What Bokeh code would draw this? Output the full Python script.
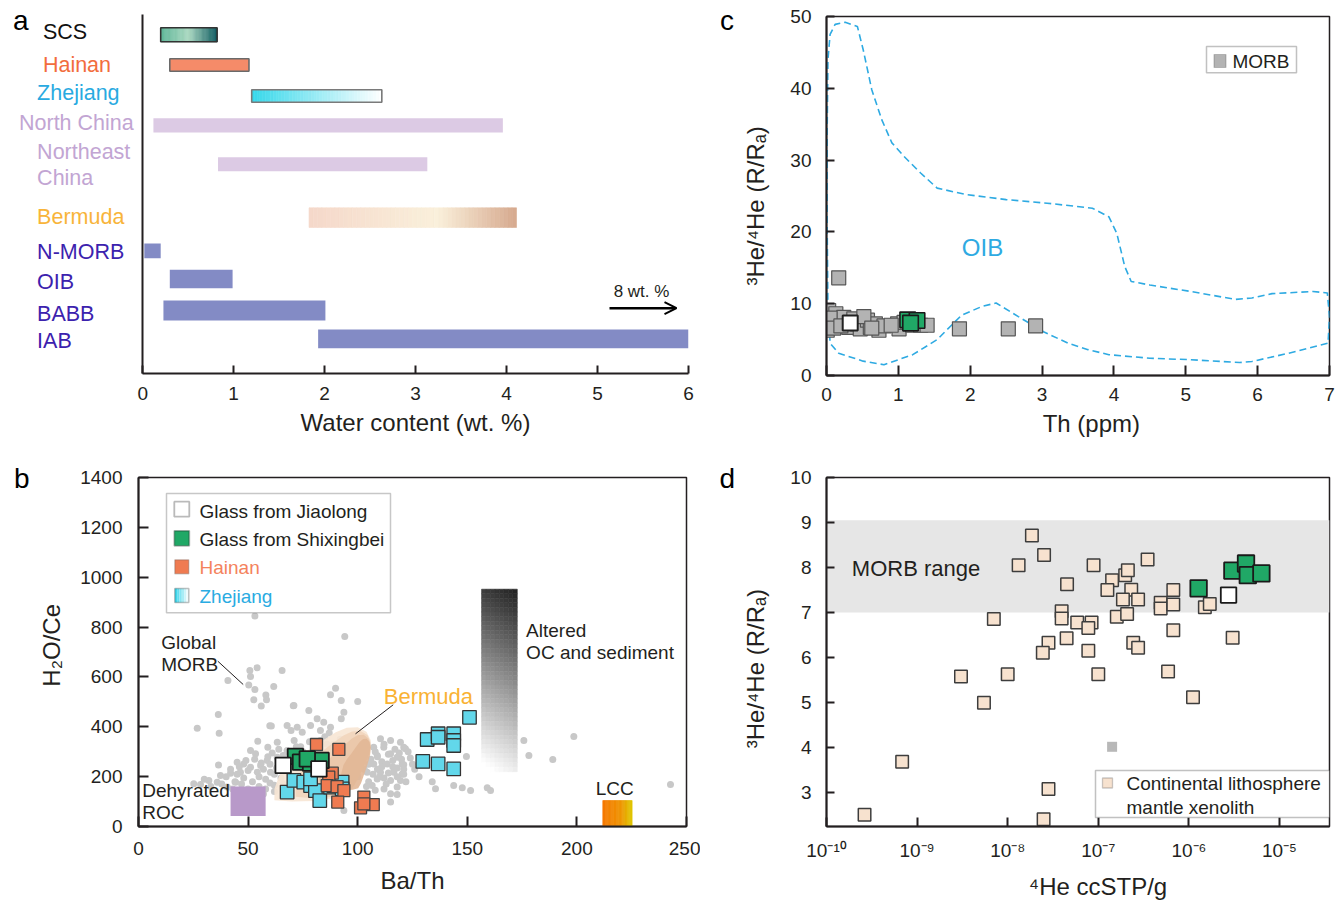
import numpy as np
from bokeh.plotting import figure
from bokeh.models import (Range1d, Label, Arrow, OpenHead, BoxAnnotation, FixedTicker,
                          CustomJSTickFormatter)
from bokeh.layouts import row, column
from bokeh.embed import file_html
from bokeh.resources import INLINE

FONT = "Liberation Sans"
INK = "#231f20"
NBSP = "\u00a0"

# ---------------- Panel a : water content ranges ----------------
a_categories = ["SCS", "Hainan", "Zhejiang", "North China", "Northeast China",
                "Bermuda", "N-MORB", "OIB", "BABB", "IAB"]
a_water_min = [0.20, 0.30, 1.20, 0.12, 0.83, 1.83, 0.02, 0.30, 0.23, 1.93]
a_water_max = [0.82, 1.17, 2.63, 3.96, 3.13, 4.11, 0.20, 0.99, 2.01, 6.00]
a_xticks = [0, 1, 2, 3, 4, 5, 6]

# ---------------- Panel b : H2O/Ce vs Ba/Th ----------------
b_morb_ba_th = [53.1, 54.1, 50.8, 51.1, 40.8, 65.5, 50.3, 53.1, 61.7, 58.1, 52.6, 58.4, 56.0, 70.6,
                36.4, 26.8, 36.8, 59.9, 67.8, 69.6, 54.4, 63.3, 59.0, 51.1, 53.4, 45.0, 36.5, 48.0,
                46.5, 42.0, 37.4, 51.1, 55.7, 58.7, 54.2, 60.2, 35.9, 32.1, 28.3, 25.2, 44.3, 63.3,
                67.8, 64.8, 40.5, 94.1, 89.9, 87.6, 92.5, 100.0, 70.9, 77.7, 93.7, 92.5, 81.5, 84.5,
                87.6, 78.5, 72.4, 74.7, 83.0, 110.4, 115.0, 119.5, 121.8, 111.9, 107.3, 108.9, 115.0,
                118.0, 121.0, 113.5, 107.3, 104.3, 110.4, 116.5, 108.9, 115.0, 118.0, 115.0, 118.0,
                106.6, 99.8, 115.0, 98.2, 93.7, 198.6, 175.8, 178.1, 189.0, 159.3, 242.7, 149.6,
                134.0, 135.5, 143.8, 147.7, 151.5, 159.1, 160.6, 121.0, 120.3, 120.3, 119.5, 60.6,
                45, 48, 50, 52, 55, 57, 58, 60, 60, 62, 63, 65, 65, 67, 68, 70, 70, 72, 73, 75, 76,
                78, 80, 80, 82, 84, 85, 86, 88, 89, 90, 92, 94, 95, 97, 98, 100, 100, 102, 103, 104,
                105, 106, 108, 109, 110, 111, 112, 113, 114, 116, 117, 118, 120, 121, 122, 123, 125,
                96, 88, 84, 92, 55, 58, 50, 62, 66, 44, 40, 68,
                42, 46, 49, 53, 56, 59, 61, 64, 66, 69, 71, 74, 77, 79, 81, 83, 86, 87, 90, 91, 93,
                96, 99, 101, 103, 105, 107, 109, 111, 112, 114, 116, 118, 119, 121, 124, 126, 128,
                104, 108, 112, 97, 94, 47, 52, 57, 62, 71, 43, 38, 33, 30]
b_morb_h2o_ce = [844, 637, 626, 602, 586, 626, 568, 550, 562, 528, 508, 508, 483, 484,
                 449, 394, 374, 404, 405, 385, 342, 338, 318, 305, 292, 258, 247, 251,
                 218, 214, 205, 238, 245, 265, 218, 218, 178, 185, 168, 171, 178, 278,
                 305, 245, 158, 762, 555, 529, 505, 501, 485, 465, 458, 432, 432, 418,
                 398, 405, 398, 378, 385, 352, 345, 338, 312, 318, 318, 285, 292,
                 278, 248, 251, 251, 218, 218, 218, 191, 185, 158, 131, 128,
                 164, 205, 98, 251, 64, 361, 345, 285, 269, 289, 168, 281,
                 180, 151, 164, 155, 144, 155, 144, 318, 251, 211, 185, 403,
                 210, 195, 225, 180, 200, 230, 190, 250, 175, 210, 235, 195, 270, 220, 300, 240, 205,
                 320, 230, 300, 210, 340, 290, 235, 310, 280, 360, 250, 300, 330, 270, 350, 300, 240,
                 280, 320, 260, 200, 300, 230, 340, 180, 270, 300, 230, 200, 260, 330, 170, 290, 240,
                 310, 200, 270, 230, 180, 300, 250, 210, 210, 190, 180, 160, 150, 150, 140, 170, 180,
                 200, 150,
                 230, 240, 265, 270, 255, 280, 295, 310, 285, 265, 345, 320, 275, 255, 320, 345, 330,
                 375, 310, 290, 325, 260, 345, 285, 320, 250, 210, 280, 240, 195, 215, 265, 235, 295,
                 210, 275, 230, 200, 160, 145, 150, 175, 200, 170, 140, 130, 165, 180, 150, 170, 160,
                 190]
b_bermuda_x = [62, 62, 64, 67, 72, 78, 84, 90, 95, 100, 104, 106, 105, 102, 98, 95, 92, 88, 80, 70]
b_bermuda_y = [105, 150, 200, 245, 280, 310, 345, 378, 396, 398, 380, 345, 305, 260, 210, 175,
               140, 112, 102, 100]
b_zhejiang_ba_th = [67.8, 70.9, 75.4, 78.5, 80.7, 82.7, 87.6, 89.1, 92.9, 92.9, 78.5,
                    131.7, 136.7, 136.7, 143.8, 143.8, 143.8, 151.0, 129.7, 136.7, 143.8]
b_zhejiang_h2o_ce = [138, 185, 178, 164, 144, 104, 158, 164, 178, 151, 191,
                     349, 372, 358, 372, 345, 325, 438, 261, 251, 231]
b_hainan_ba_th = [81.2, 91.4, 88.4, 86.8, 86.1, 90.6, 93.7, 90.9, 102.8, 107.1, 101.3, 102.8]
b_hainan_h2o_ce = [329, 309, 214, 198, 164, 160, 144, 98, 118, 88, 75, 91]
b_shixingbei_ba_th = [71.6, 73.9, 78.5, 83.3, 77.0]
b_shixingbei_h2o_ce = [281, 258, 254, 265, 271]
b_jiaolong_ba_th = [66.0, 82.3]
b_jiaolong_h2o_ce = [245, 231]
b_roc_box = dict(x0=42, x1=58, y0=42, y1=160)
b_lcc_box = dict(x0=211.8, x1=225.2, y0=0, y1=104)
b_altered_box = dict(x0=156.5, x1=172.8, y0=220, y1=952)
b_xticks = [0, 50, 100, 150, 200, 250]
b_yticks = [0, 200, 400, 600, 800, 1000, 1200, 1400]

# ---------------- Panel c : 3He/4He vs Th ----------------
c_morb_th = [0.03, 0.06, 0.01, 0.13, 0.17, 0.24, 0.31, 0.38, 0.43, 0.47, 0.57, 0.61, 0.68, 0.73,
             0.99, 1.01, 1.08, 1.20, 1.31, 1.40, 0.17, 1.85, 2.53, 2.91, 0.05, 0.10, 0.20, 0.80,
             0.90, 0.52, 0.63]
c_morb_he = [9.05, 7.4, 6.3, 8.6, 7.2, 8.1, 6.7, 7.9, 7.2, 6.5, 7.7, 6.7, 7.2, 6.3,
             7.2, 6.5, 7.4, 7.0, 7.0, 7.0, 13.6, 6.5, 6.5, 6.9, 8.0, 6.6, 6.9, 6.9,
             7.0, 8.2, 6.6]
c_jiaolong_th = [0.33]
c_jiaolong_he = [7.3]
c_shixingbei_th = [1.13, 1.26, 1.17]
c_shixingbei_he = [7.75, 7.66, 7.30]
c_oib_th = [0.02, 0.01, 0.01, 0.02, 0.05, 0.12, 0.26, 0.43, 0.51, 0.63, 0.77, 0.91, 1.08, 1.31,
            1.54, 1.94, 2.50, 3.07, 3.70, 3.93, 4.04, 4.15, 4.24, 4.50, 5.07, 5.69, 5.92, 6.20,
            6.77, 6.97, 7.00, 6.98, 6.43, 5.92, 5.75, 5.07, 4.50, 3.93, 3.64, 3.36, 3.02, 2.67,
            2.36, 2.16, 1.88, 1.54, 1.20, 0.80, 0.51, 0.17, 0.05, 0.03, 0.02]
c_oib_he = [9.0, 20.0, 35.0, 44.0, 47.5, 48.9, 49.2, 48.6, 45.4, 39.8, 35.6, 32.4, 30.5, 28.2,
            26.1, 25.2, 24.5, 24.0, 23.3, 22.1, 19.8, 15.2, 13.1, 12.6, 11.7, 10.6, 10.8, 11.4,
            11.7, 11.5, 8.2, 4.5, 3.1, 1.95, 1.8, 2.2, 2.4, 2.9, 3.6, 4.5, 6.1, 8.2,
            10.1, 9.6, 8.4, 5.0, 2.9, 1.5, 2.0, 3.1, 4.5, 8.2, 9.0]
c_xticks = [0, 1, 2, 3, 4, 5, 6, 7]
c_yticks = [0, 10, 20, 30, 40, 50]

# ---------------- Panel d : 3He/4He vs 4He ----------------
d_xenolith_he4 = [1.85e-8, 2.52e-8, 1.32e-8, 8.87e-8, 3.50e-7, 4.52e-8, 1.42e-7, 1.98e-7, 2.12e-7,
                  1.26e-7, 2.31e-7, 1.87e-7, 2.75e-7, 6.73e-7, 4.88e-7, 4.88e-7, 6.73e-7, 1.50e-6,
                  1.70e-6, 3.94e-8, 3.94e-8, 7.03e-9, 5.85e-8, 8.43e-8, 7.76e-8, 1.60e-7, 2.08e-7,
                  6.73e-7, 4.47e-8, 2.82e-8, 2.44e-8, 7.76e-8, 2.43e-7, 2.75e-7, 3.04e-6, 3.05e-9,
                  1.00e-8, 1.00e-7, 5.89e-7, 5.47e-9, 1.11e-6, 6.84e-10, 2.82e-8, 2.63e-10, 2.49e-8]
d_xenolith_ratio = [8.71, 8.28, 8.05, 8.05, 8.18, 7.63, 7.72, 7.83, 7.94,
                    7.50, 7.51, 7.29, 7.29, 7.50, 7.22, 7.09, 7.18, 7.12,
                    7.19, 7.03, 6.87, 6.86, 6.78, 6.78, 6.66, 6.91, 6.97,
                    6.61, 6.43, 6.33, 6.11, 6.15, 6.33, 6.22, 6.44, 5.58,
                    5.63, 5.63, 5.69, 5.00, 5.12, 3.69, 3.08, 2.51, 2.41]
d_gray_he4 = [1.42e-7]
d_gray_ratio = [4.02]
d_shixingbei_he4 = [1.28e-6, 3.02e-6, 4.27e-6, 4.47e-6, 6.31e-6]
d_shixingbei_ratio = [7.54, 7.93, 8.09, 7.83, 7.87]
d_jiaolong_he4 = [2.74e-6]
d_jiaolong_ratio = [7.39]
d_morb_range = [7.0, 9.05]
d_xticks = [1e-10, 1e-9, 1e-8, 1e-7, 1e-6, 1e-5]
d_yticks = [3, 4, 5, 6, 7, 8, 9, 10]

HE_TITLE = "\u00b3He/\u2074He (R/R\u2090)"


# ---------------- helpers ----------------
def _rgb(h):
    h = h.lstrip('#')
    return tuple(int(h[i:i + 2], 16) for i in (0, 2, 4))


def grad(stops, t):
    for (t0, c0), (t1, c1) in zip(stops[:-1], stops[1:]):
        if t <= t1:
            u = (t - t0) / (t1 - t0) if t1 > t0 else 0.0
            a, b = _rgb(c0), _rgb(c1)
            return "#%02x%02x%02x" % tuple(int(round(a[k] + (b[k] - a[k]) * u)) for k in range(3))
    return stops[-1][1]


def make_fig(w, h, left, right, top, bottom, xr, yr, x_axis_type="linear"):
    p = figure(width=w, height=h, x_range=xr, y_range=yr, x_axis_type=x_axis_type,
               output_backend="svg", toolbar_location=None, title=None, frame_align=False,
               min_border_left=left, min_border_right=right,
               min_border_top=top, min_border_bottom=bottom)
    p.xgrid.visible = False
    p.ygrid.visible = False
    p.background_fill_color = "white"
    p.border_fill_color = "white"
    p.outline_line_color = INK
    p.outline_line_width = 1.5
    for ax in (p.xaxis[0], p.yaxis[0]):
        ax.axis_line_color = INK
        ax.axis_line_width = 2
        ax.major_tick_line_color = INK
        ax.major_tick_line_width = 2
        ax.major_tick_in = 9
        ax.major_tick_out = 0
        ax.minor_tick_line_color = None
        ax.major_label_text_font = FONT
        ax.major_label_text_font_size = "19px"
        ax.major_label_text_color = INK
        ax.axis_label_text_font = FONT
        ax.axis_label_text_font_size = "24px"
        ax.axis_label_text_font_style = "normal"
        ax.axis_label_text_color = INK
    return p


def helper(w, h, xr, yr):
    p = figure(width=w, height=h, x_range=xr, y_range=yr, output_backend="svg",
               toolbar_location=None, title=None, x_axis_location=None, y_axis_location=None,
               frame_align=False,
               min_border_left=0, min_border_right=0, min_border_top=0, min_border_bottom=0)
    p.grid.visible = False
    p.outline_line_color = None
    p.background_fill_color = "white"
    p.border_fill_color = "white"
    return p


def label(p, x, y, s, size, color=INK, align="left", baseline="middle", angle=0.0):
    p.add_layout(Label(x=x, y=y, text=s, text_font=FONT, text_font_size=f"{size}px",
                       text_color=color, text_align=align, text_baseline=baseline, angle=angle))


# ================= Panel a =================
la = helper(137, 450, Range1d(0, 137), Range1d(450, 0))
pa = make_fig(563, 450, 5, 12, 14, 77, Range1d(0, 6), Range1d(373, 14))
pa.outline_line_color = None
pa.xaxis.ticker = FixedTicker(ticks=a_xticks)
pa.xaxis.major_label_standoff = 13
pa.xaxis.major_tick_in = 8
pa.xaxis.axis_label = "Water content (wt. %)"
pa.xaxis.axis_label_standoff = 6
pa.yaxis.ticker = FixedTicker(ticks=[])
pa.yaxis.major_tick_line_color = None
pa.yaxis.major_label_text_font_size = "0px"


def ax_(px):
    return (px - 142.0) / 546.0 * 6.0


a_row_top = [27.3, 58.3, 89.3, 117.7, 156.7, 207.3, 243.0, 269.3, 300.0, 329.0]
a_row_bot = [41.3, 70.7, 101.7, 132.0, 170.7, 227.0, 257.7, 287.7, 320.0, 347.7]
BLUE = "#838bc5"
LILAC = "#dccae4"
INDIGO = "#3c22ae"
a_style = {
    "SCS": dict(fill="#8ccab0", grad=[(0, "#5db597"), (0.5, "#aad8c1"), (1, "#0d5a5f")],
                line="#333333", color="#111111", lines=[("SCS", 42.4, 31.7)]),
    "Hainan": dict(fill="#f58b69", grad=None, line="#6a6a6a", color="#f26d3d",
                   lines=[("Hainan", 42.4, 64.0)]),
    "Zhejiang": dict(fill="#9ee9f3", grad=[(0, "#36d8eb"), (1, "#ffffff")], line="#7a7a7a",
                     color="#29aae1", lines=[("Zhejiang", 36.6, 92.5)]),
    "North China": dict(fill=LILAC, grad=None, line=None, color="#c2a5d3",
                        lines=[("North China", 18.5, 122.7)]),
    "Northeast China": dict(fill=LILAC, grad=None, line=None, color="#c2a5d3",
                            lines=[("Northeast", 36.6, 151.7), ("China", 36.6, 177.3)]),
    "Bermuda": dict(fill="#f3dccb", grad=[(0, "#f5d8ca"), (0.62, "#faf0db"), (1, "#d6a98e")],
                    line=None, color="#f8b43a", lines=[("Bermuda", 36.6, 216.0)]),
    "N-MORB": dict(fill=BLUE, grad=None, line=None, color=INDIGO, lines=[("N-MORB", 36.6, 251.7)]),
    "OIB": dict(fill=BLUE, grad=None, line=None, color=INDIGO, lines=[("OIB", 36.6, 281.7)]),
    "BABB": dict(fill=BLUE, grad=None, line=None, color=INDIGO, lines=[("BABB", 36.6, 313.3)]),
    "IAB": dict(fill=BLUE, grad=None, line=None, color=INDIGO, lines=[("IAB", 36.6, 340.0)]),
}

for i, cat in enumerate(a_categories):
    st = a_style[cat]
    lo, hi = a_water_min[i], a_water_max[i]
    top, bot = a_row_top[i], a_row_bot[i]
    if st["grad"] is None:
        pa.quad(left=[lo], right=[hi], top=[top], bottom=[bot], fill_color=st["fill"],
                line_color=None)
    else:
        n = 48
        edges = np.linspace(lo, hi, n + 1)
        cols = [grad(st["grad"], (k + 0.5) / n) for k in range(n)]
        pa.quad(left=edges[:-1], right=edges[1:], top=top, bottom=bot, fill_color=cols,
                line_color=cols, line_width=0.6)
    if st["line"] is not None:
        pa.quad(left=[lo], right=[hi], top=[top], bottom=[bot], fill_color=None,
                line_color=st["line"], line_width=1.6)
    for s, lx, ly in st["lines"]:
        label(la, lx, ly, s, 21.5, color=st["color"])

label(la, 12.5, 19.5, "a", 28, color="#000000")
pa.add_layout(Arrow(end=OpenHead(size=12, line_width=2, line_color="#000000"),
                    x_start=ax_(609), y_start=307.7, x_end=ax_(676), y_end=307.7,
                    line_width=2.5, line_color="#000000"))
label(pa, ax_(641), 290.5, "8 wt. %", 17, align="center")

# ================= Panel c =================
lc = helper(38, 450, Range1d(700, 738), Range1d(450, 0))
pc = make_fig(600, 450, 88, 9, 16, 75, Range1d(0, 7), Range1d(0, 50))
pc.xaxis.ticker = FixedTicker(ticks=c_xticks)
pc.yaxis.ticker = FixedTicker(ticks=c_yticks)
pc.xaxis.major_label_standoff = 12
pc.yaxis.major_label_standoff = 15
pc.xaxis.major_tick_in = 10
pc.yaxis.major_tick_in = 8
pc.xaxis.axis_label = NBSP * 4 + "Th (ppm)"
pc.xaxis.axis_label_standoff = 6
pc.yaxis.axis_label = HE_TITLE + NBSP * 3
pc.yaxis.axis_label_standoff = 18


def cx_(px):
    return (px - 826.0) / 503.0 * 7.0


def cy_(py):
    return (375.0 - py) / 359.0 * 50.0


pc.line(c_oib_th, c_oib_he, line_color="#2eaae2", line_width=1.6, line_dash="7 4")
pc.scatter(c_morb_th, c_morb_he, marker="square", size=14, fill_color="#b3b3b3",
           line_color="#555555", line_width=1.2)
pc.scatter(c_jiaolong_th, c_jiaolong_he, marker="square", size=15, fill_color="white",
           line_color="#222222", line_width=2)
pc.scatter(c_shixingbei_th, c_shixingbei_he, marker="square", size=15.5, fill_color="#20a866",
           line_color="#1a1a1a", line_width=1.6)
label(pc, cx_(982), cy_(246.5), "OIB", 24, color="#2eaae2", align="center")
pc.add_layout(BoxAnnotation(left=cx_(1206), right=cx_(1296), top=cy_(46), bottom=cy_(72.3),
                            fill_color="white", fill_alpha=1, line_color="#333333",
                            line_width=1.5))
pc.add_layout(BoxAnnotation(left=cx_(1213.5), right=cx_(1225.5), top=cy_(54), bottom=cy_(67),
                            fill_color="#b3b3b3", fill_alpha=1, line_color="#555555",
                            line_width=1.2))
label(pc, cx_(1232), cy_(60.5), "MORB", 19)
label(lc, 719.5, 20, "c", 28, color="#000000")

# ================= Panel b =================
lb = helper(35, 453, Range1d(0, 35), Range1d(903, 450))
pb = make_fig(665, 453, 103, 14, 27, 77, Range1d(0, 250), Range1d(0, 1400))
pb.xaxis.ticker = FixedTicker(ticks=b_xticks)
pb.yaxis.ticker = FixedTicker(ticks=b_yticks)
pb.xaxis.major_label_standoff = 15
pb.yaxis.major_label_standoff = 16
pb.xaxis.major_tick_in = 10
pb.yaxis.major_tick_in = 10
pb.xaxis.axis_label = "Ba/Th"
pb.xaxis.axis_label_standoff = 9
pb.yaxis.axis_label = NBSP * 2 + "H\u2082O/Ce"
pb.yaxis.axis_label_standoff = 12


def bx_(px):
    return (px - 138.0) / 548.0 * 250.0


def by_(py):
    return (826.0 - py) / 349.0 * 1400.0


pb.scatter(b_morb_ba_th, b_morb_h2o_ce, marker="circle", size=7, fill_color="#c8c8c8",
           line_color=None)
# Bermuda field, shaded from cream (left) to tan (right)
bx_arr = np.array(b_bermuda_x, dtype=float)
by_arr = np.array(b_bermuda_y, dtype=float)
xr_, yc_ = bx_arr.max(), 0.5 * (by_arr.max() + by_arr.min())
for s, col in [(1.0, "#f7e5d4"), (0.78, "#f1d5bd"), (0.55, "#eac6a8"), (0.32, "#e2b796")]:
    pb.patch(xr_ - (xr_ - bx_arr) * s, yc_ + (by_arr - yc_) * (0.55 + 0.45 * s),
             fill_color=col, fill_alpha=0.9, line_color=None)

# altered oceanic crust / sediment gradient bar
nr, nc = 40, 8
ab = b_altered_box
ys = np.linspace(ab["y1"], ab["y0"], nr + 1)
xs = np.linspace(ab["x0"], ab["x1"], nc + 1)
L, R_, T, B, C = [], [], [], [], []
for r in range(nr):
    for c in range(nc):
        ty = (r + 0.5) / nr
        tx = (c + 0.5) / nc
        g = min(1.0, 0.13 + 0.80 * ty + 0.11 * (1 - tx))
        v = int(round(255 * g))
        col = "#%02x%02x%02x" % (v, v, v)
        L.append(xs[c]); R_.append(xs[c + 1]); T.append(ys[r]); B.append(ys[r + 1]); C.append(col)
pb.quad(left=L, right=R_, top=T, bottom=B, fill_color=C, line_color=C, line_width=0.6)

# LCC gradient box
n = 24
lbx = b_lcc_box
edges = np.linspace(lbx["x0"], lbx["x1"], n + 1)
cols = [grad([(0, "#f67800"), (0.6, "#ef9200"), (1, "#dfc800")], (k + 0.5) / n) for k in range(n)]
pb.quad(left=edges[:-1], right=edges[1:], top=lbx["y1"], bottom=lbx["y0"], fill_color=cols,
        line_color=cols, line_width=0.6)
rb = b_roc_box
pb.quad(left=[rb["x0"]], right=[rb["x1"]], top=[rb["y1"]], bottom=[rb["y0"]],
        fill_color="#b899c9", line_color=None)

pb.scatter(b_zhejiang_ba_th, b_zhejiang_h2o_ce, marker="square", size=13.5, fill_color="#62d7ea",
           line_color="#333333", line_width=1.3)
pb.scatter(b_hainan_ba_th, b_hainan_h2o_ce, marker="square", size=12, fill_color="#ef7b51",
           line_color="#444444", line_width=1.3)
pb.scatter(b_shixingbei_ba_th, b_shixingbei_h2o_ce, marker="square", size=15.5,
           fill_color="#20a866", line_color="#1a1a1a", line_width=1.8)
pb.scatter(b_jiaolong_ba_th, b_jiaolong_h2o_ce, marker="square", size=15.5, fill_color="white",
           line_color="#1a1a1a", line_width=1.8)

# annotations panel b
label(pb, bx_(160.7), by_(641.7), "Global", 19)
label(pb, bx_(160.7), by_(664), "MORB", 19)
pb.add_layout(Arrow(end=None, x_start=bx_(217.3), y_start=by_(660.7), x_end=bx_(242.7),
                    y_end=by_(684), line_color=INK, line_width=1))
label(pb, bx_(383.3), by_(696), "Bermuda", 22, color="#f9b233")
pb.add_layout(Arrow(end=None, x_start=bx_(392.7), y_start=by_(704.3), x_end=bx_(355),
                    y_end=by_(733.3), line_color=INK, line_width=1))
label(pb, bx_(525.6), by_(630), "Altered", 19)
label(pb, bx_(525.6), by_(652.3), "OC and sediment", 19)
label(pb, bx_(141.7), by_(790), "Dehyrated", 19)
label(pb, bx_(141.7), by_(811.7), "ROC", 19)
label(pb, bx_(614.3), by_(788.3), "LCC", 19, align="center")

# legend panel b
pb.add_layout(BoxAnnotation(left=bx_(166), right=bx_(390), top=by_(493), bottom=by_(612.3),
                            fill_color="white", fill_alpha=1, line_color="#444444",
                            line_width=1.5))


def leg_square(p, fx, fy, cxp, cyp, half, fill, line, lw=1.5):
    p.add_layout(BoxAnnotation(left=fx(cxp - half), right=fx(cxp + half), top=fy(cyp - half),
                               bottom=fy(cyp + half), fill_color=fill, fill_alpha=1,
                               line_color=line, line_width=lw))


leg_square(pb, bx_, by_, 181.3, 508.7, 7.5, "white", "#1a1a1a", 1.8)
leg_square(pb, bx_, by_, 181.3, 537.8, 7.5, "#20a866", "#1a1a1a", 1.8)
leg_square(pb, bx_, by_, 181.3, 566.3, 7.0, "#ef7b51", "#555555", 1.3)
nz = 6
for k in range(nz):
    xa = 174.3 + 14.0 * k / nz
    xb = 174.3 + 14.0 * (k + 1) / nz
    colz = grad([(0, "#2fd3ea"), (1, "#ffffff")], (k + 0.5) / nz)
    pb.add_layout(BoxAnnotation(left=bx_(xa), right=bx_(xb), top=by_(588), bottom=by_(602),
                                fill_color=colz, fill_alpha=1, line_color=None))
pb.add_layout(BoxAnnotation(left=bx_(174.3), right=bx_(188.3), top=by_(588), bottom=by_(602),
                            fill_color=None, line_color="#333333", line_width=1.5))
label(pb, bx_(199), by_(510.5), "Glass from Jiaolong", 19)
label(pb, bx_(199), by_(538.5), "Glass from Shixingbei", 19)
label(pb, bx_(199), by_(566.5), "Hainan", 19, color="#f4825c")
label(pb, bx_(199), by_(595.5), "Zhejiang", 19, color="#29abe2")
label(lb, 13.5, 478, "b", 28, color="#000000")

# ================= Panel d =================
D_DECADE = 90.6
ld = helper(38, 453, Range1d(700, 738), Range1d(903, 450))
pd_ = make_fig(600, 453, 88, 9, 27, 77, Range1d(1e-10, 10 ** (-10 + 503 / D_DECADE)),
               Range1d(2.25, 10), x_axis_type="log")
pd_.xaxis.ticker = FixedTicker(ticks=d_xticks)
pd_.yaxis.ticker = FixedTicker(ticks=d_yticks)
pd_.xaxis.major_label_standoff = 13
pd_.yaxis.major_label_standoff = 15
pd_.xaxis.major_tick_in = 9
pd_.yaxis.major_tick_in = 8
pd_.xaxis.axis_label = NBSP * 6 + "\u2074He ccSTP/g"
pd_.xaxis.axis_label_standoff = 9
pd_.yaxis.axis_label = HE_TITLE + NBSP * 5
pd_.yaxis.axis_label_standoff = 18
pd_.xaxis.formatter = CustomJSTickFormatter(code="""
const e = Math.round(Math.log10(tick));
const m = {"-": "\u207b", "0": "\u2070", "1": "\u00b9", "2": "\u00b2", "3": "\u00b3",
           "4": "\u2074", "5": "\u2075", "6": "\u2076", "7": "\u2077", "8": "\u2078", "9": "\u2079"};
return "10" + String(e).split("").map(c => m[c]).join("");
""")


def dx_(px):
    return 10 ** (-10 + (px - 826.0) / D_DECADE)


def dy_(py):
    return 10 - (py - 477.0) / 349.0 * 7.75


pd_.add_layout(BoxAnnotation(bottom=d_morb_range[0], top=d_morb_range[1], fill_color="#e6e6e6",
                             fill_alpha=1, line_color=None, level="underlay"))
pd_.scatter(d_xenolith_he4, d_xenolith_ratio, marker="square", size=12.5, fill_color="#f7e2cf",
            line_color="#3d3d3d", line_width=1.5)
pd_.scatter(d_gray_he4, d_gray_ratio, marker="square", size=10, fill_color="#b8b8b8",
            line_color=None)
pd_.scatter(d_jiaolong_he4, d_jiaolong_ratio, marker="square", size=15.5, fill_color="white",
            line_color="#1a1a1a", line_width=1.8)
pd_.scatter(d_shixingbei_he4, d_shixingbei_ratio, marker="square", size=16.5,
            fill_color="#20a866", line_color="#1a1a1a", line_width=1.8)
label(pd_, dx_(851.3), dy_(568.3), "MORB range", 22)
pd_.add_layout(BoxAnnotation(left=dx_(1095), right=dx_(1329), top=dy_(770), bottom=dy_(817),
                             fill_color="white", fill_alpha=1, line_color="#333333",
                             line_width=1.5))
leg_square(pd_, dx_, dy_, 1107, 782.5, 5, "#f7e2cf", "#555555", 1.3)
label(pd_, dx_(1126), dy_(783), "Continental lithosphere", 19)
label(pd_, dx_(1126), dy_(806.5), "mantle xenolith", 19)
label(ld, 719.0, 478, "d", 28, color="#000000")

layout = column(row(la, pa, lc, pc), row(lb, pb, ld, pd_))
open("out.html", "w").write(file_html(layout, INLINE, title="Water content and helium isotopes"))
